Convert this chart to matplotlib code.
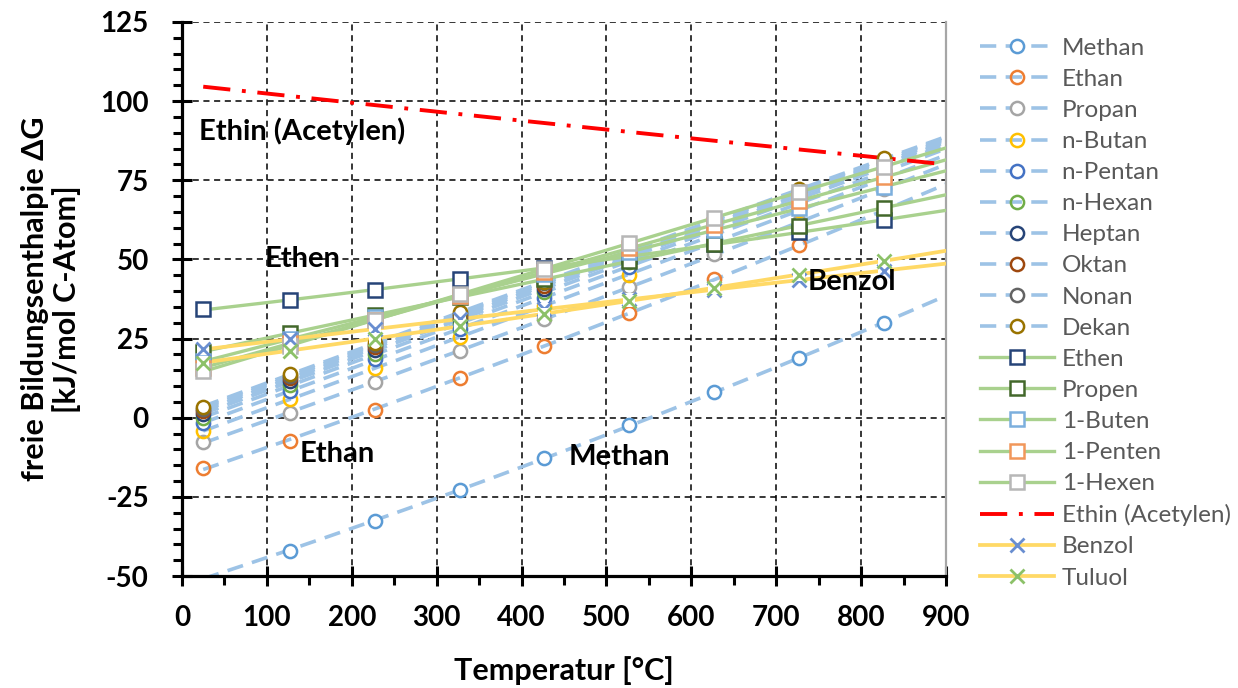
import numpy as np
import matplotlib
matplotlib.use("Agg")
import matplotlib.pyplot as plt
from matplotlib.lines import Line2D

plt.rcParams['font.family'] = ['Lato', 'DejaVu Sans']
plt.rcParams['axes.unicode_minus'] = False

# ---------------- data (free enthalpy of formation per C atom, kJ/mol) ----------------
temps = [25, 127, 227, 327, 427, 527, 627, 727, 827]

methan  = [-50.5, -42.0, -32.7, -22.9, -12.8, -2.4, 8.2, 19.0, 29.9]
ethan   = [-16.0, -7.2, 2.5, 12.5, 22.8, 33.0, 43.9, 54.5, 65.3]
propan  = [-7.8, 1.5, 11.3, 21.2, 31.2, 41.2, 51.6, 61.8, 72.2]
butan   = [-4.3, 5.9, 15.7, 25.5, 35.4, 45.2, 55.4, 65.5, 75.6]
pentan  = [-1.7, 8.5, 18.4, 28.1, 37.9, 47.7, 57.8, 67.7, 77.7]
hexan   = [-0.1, 10.3, 20.2, 29.8, 39.6, 49.3, 59.3, 69.2, 79.1]
heptan  = [1.1, 11.5, 21.4, 31.1, 40.8, 50.5, 60.4, 70.2, 80.1]
oktan   = [2.1, 12.4, 22.4, 32.0, 41.7, 51.4, 61.2, 71.0, 80.8]
nonan   = [2.8, 13.2, 23.1, 32.7, 42.4, 52.1, 61.9, 71.6, 81.4]
dekan   = [3.4, 13.8, 23.7, 33.3, 43.0, 52.6, 62.4, 72.1, 81.9]

ethen   = [34.2, 37.1, 40.3, 43.8, 47.4, 51.0, 54.8, 58.6, 62.4]
propen  = [20.9, 26.7, 32.4, 38.1, 43.8, 49.5, 55.0, 60.6, 66.4]
buten   = [17.8, 24.8, 31.7, 38.6, 45.5, 52.4, 59.2, 66.1, 73.0]
penten  = [15.8, 23.5, 31.0, 38.5, 46.0, 53.5, 61.0, 68.5, 76.0]
hexen   = [14.6, 22.8, 30.9, 39.0, 47.0, 55.1, 63.2, 71.3, 79.3]

ethin   = [104.6, 101.6, 98.7, 95.9, 93.1, 90.3, 87.5, 84.7, 82.0]

benzol  = [21.6, 24.8, 28.0, 31.2, 34.3, 37.4, 40.4, 43.5, 46.5]
tuluol  = [17.4, 21.2, 25.0, 28.9, 32.9, 36.9, 41.0, 45.2, 49.6]

alkane_names = ['Methan', 'Ethan', 'Propan', 'n-Butan', 'n-Pentan', 'n-Hexan',
                'Heptan', 'Oktan', 'Nonan', 'Dekan']
alkane_vals = [methan, ethan, propan, butan, pentan, hexan, heptan, oktan, nonan, dekan]
alkane_cols = ['#5B9BD5', '#ED7D31', '#A5A5A5', '#FFC000', '#4472C4', '#70AD47',
               '#264478', '#9E480E', '#636363', '#997300']
alkane_open = [False, True, False, True, False, True, False, False, False, False]

alkene_names = ['Ethen', 'Propen', '1-Buten', '1-Penten', '1-Hexen']
alkene_vals = [ethen, propen, buten, penten, hexen]
alkene_cols = ['#264478', '#43682B', '#7CAFDD', '#F1975A', '#B7B7B7']

arom_names = ['Benzol', 'Tuluol']
arom_vals = [benzol, tuluol]
arom_cols = ['#698ED0', '#8CC168']

x_ticks = list(range(0, 901, 100))
y_ticks = list(range(-50, 126, 25))

# ---------------- styles ----------------
DASH_COL = '#9DC3E6'
GREEN = '#A9D18E'
YELLOW = '#FFD966'
RED = '#FF0000'
T = np.array(temps, dtype=float)
x_line = np.linspace(25, 900, 200)
YMIN, YMAX = -50, 125


def trend(vals):
    c = np.polyfit(T, np.array(vals, dtype=float), 2)
    return np.polyval(c, x_line)


fig = plt.figure(figsize=(12.38, 6.88), dpi=100)
ax = fig.add_axes([182 / 1238, 1 - 576 / 688, (946 - 182) / 1238, (576 - 22) / 688])

dash_style = (0, (4.5, 2.6))
MS = 9.5
MEW = 1.8

# trend lines
for v in alkane_vals:
    ax.plot(x_line, trend(v), color=DASH_COL, lw=2.6, ls=dash_style, zorder=2,
            solid_capstyle='butt', dash_capstyle='butt')
for v in alkene_vals:
    ax.plot(x_line, trend(v), color=GREEN, lw=2.4, zorder=3)
for v in arom_vals:
    ax.plot(x_line, trend(v), color=YELLOW, lw=2.7, zorder=3)
ax.plot(x_line[x_line <= 890], trend(ethin)[x_line <= 890], color=RED, lw=2.8,
        ls=(0, (7, 3, 1, 3)), zorder=3)

# markers
z = 5
for v, c, op in zip(alkane_vals, alkane_cols, alkane_open):
    arr = np.array(v, dtype=float)
    m = arr >= YMIN
    ax.plot(T[m], arr[m], ls='none', marker='o', ms=MS, mew=MEW, mec=c,
            mfc='none' if op else 'white', zorder=z)
    z += 0.01
for v, c in zip(alkene_vals, alkene_cols):
    ax.plot(T, v, ls='none', marker='s', ms=MS, mew=MEW, mec=c, mfc='white', zorder=z)
    z += 0.01
for v, c in zip(arom_vals, arom_cols):
    ax.plot(T, v, ls='none', marker='s', ms=MS - 1, mew=0, mfc='white', zorder=z)
    z += 0.01
    ax.plot(T, v, ls='none', marker='x', ms=MS + 1, mew=MEW + 0.2, mec=c, zorder=z)
    z += 0.01

# annotations
txt_kw = dict(fontsize=21, fontweight='bold', color='black', zorder=10)
ax.text(20, 90.5, 'Ethin (Acetylen)', ha='left', va='center', **txt_kw)
ax.text(97, 50, 'Ethen', ha='left', va='center', **txt_kw)
ax.text(138, -11.5, 'Ethan', ha='left', va='center', **txt_kw)
ax.text(455, -12.5, 'Methan', ha='left', va='center', **txt_kw)
ax.text(737, 43, 'Benzol', ha='left', va='center', **txt_kw)

# axes
ax.set_xlim(0, 900)
ax.set_ylim(YMIN, YMAX)
ax.set_xticks(x_ticks)
ax.set_yticks(y_ticks)
ax.set_xticks(np.arange(50, 900, 100), minor=True)
ax.set_yticks(np.arange(-45, 125, 5), minor=True)
ax.grid(True, which='major', color='black', ls=(0, (4, 3)), lw=1.1)
ax.set_axisbelow(True)

for s in ['left', 'bottom']:
    ax.spines[s].set_linewidth(2.3)
    ax.spines[s].set_color('black')
ax.spines['top'].set_visible(False)
ax.spines['right'].set_color('#A6A6A6')
ax.spines['right'].set_linewidth(1.6)

ax.tick_params(which='major', direction='inout', length=14, width=2.2, color='black',
               labelsize=20)
ax.tick_params(which='minor', direction='out', length=6.5, width=2.2, color='black')
ax.tick_params(axis='y', which='major', pad=17)
ax.tick_params(axis='x', which='major', pad=14)
ax.tick_params(axis='y', which='minor', right=False)
for lab in ax.get_xticklabels() + ax.get_yticklabels():
    lab.set_fontweight('bold')

ax.set_xlabel('Temperatur [°C]', fontsize=22, fontweight='bold', labelpad=18)
ax.set_ylabel('freie Bildungsenthalpie ΔG\n[kJ/mol C-Atom]', fontsize=22,
              fontweight='bold', labelpad=14, linespacing=1.12)

# legend
handles = []
labels = []
for n, c, op in zip(alkane_names, alkane_cols, alkane_open):
    handles.append(Line2D([], [], color=DASH_COL, lw=2.6, ls=(0, (4.5, 2.6)), marker='o',
                          ms=MS, mew=MEW, mec=c, mfc='none' if op else 'white'))
    labels.append(n)
for n, c in zip(alkene_names, alkene_cols):
    handles.append(Line2D([], [], color=GREEN, lw=2.4, marker='s', ms=MS, mew=MEW,
                          mec=c, mfc='white'))
    labels.append(n)
handles.append(Line2D([], [], color=RED, lw=2.8, ls=(0, (7, 3, 1, 3))))
labels.append('Ethin (Acetylen)')
for n, c in zip(arom_names, arom_cols):
    handles.append(Line2D([], [], color=YELLOW, lw=2.7, marker='x', ms=MS + 1,
                          mew=MEW + 0.2, mec=c))
    labels.append(n)

leg = fig.legend(handles, labels, loc='upper left',
                 bbox_to_anchor=(970 / 1238, 1 - 28 / 688), frameon=False,
                 fontsize=17.5, handlelength=3.05, handletextpad=0.32,
                 labelspacing=0.415, borderaxespad=0)
for t in leg.get_texts():
    t.set_color('#595959')

fig.savefig('out.png', dpi=100)
